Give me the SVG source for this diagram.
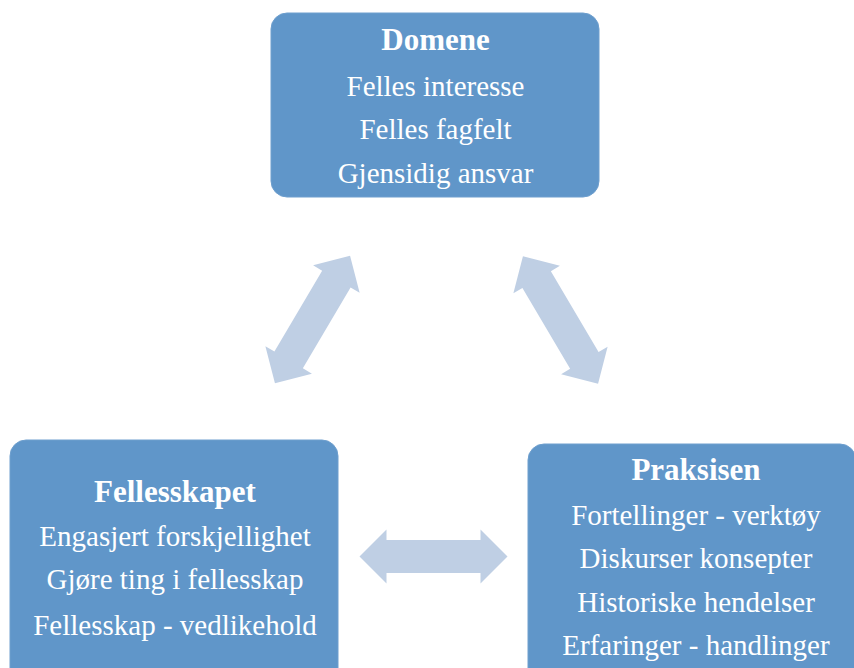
<svg xmlns="http://www.w3.org/2000/svg" width="854" height="668" viewBox="0 0 854 668">
  <style>
    .box { fill: #6096C9; stroke: #6E9FCE; stroke-width: 1; }
    .arrow { fill: #BFCFE4; }
    text { font-family: "Liberation Serif", "Times New Roman", serif; fill: #FFFFFF; text-anchor: middle; font-size: 29px; }
    .title { font-weight: bold; font-size: 31px; }
  </style>
  <defs>
    <!-- double-headed block arrow, centred on the origin -->
    <path id="dblArrow" d="M -74,0 L -47,-27 L -47,-16.5 L 47,-16.5 L 47,-27 L 74,0 L 47,27 L 47,16.5 L -47,16.5 L -47,27 Z"/>
  </defs>
  <rect width="854" height="668" fill="#FFFFFF"/>

  <g id="connectors">
    <use href="#dblArrow" class="arrow" transform="translate(312.5,319.5) rotate(-59.5)"/>
    <use href="#dblArrow" class="arrow" transform="translate(560.5,320) rotate(59.5)"/>
    <use href="#dblArrow" class="arrow" transform="translate(433.5,556.5)"/>
  </g>

  <g id="domene">
    <rect class="box" x="271" y="13" width="328" height="184" rx="16" ry="16"/>
    <text class="title" x="435.5" y="50">Domene</text>
    <text x="435.5" y="96">Felles interesse</text>
    <text x="435.5" y="139">Felles fagfelt</text>
    <text x="435.5" y="183">Gjensidig ansvar</text>
  </g>

  <g id="fellesskapet">
    <rect class="box" x="10" y="440" width="328" height="250" rx="16" ry="16"/>
    <text class="title" x="175" y="502">Fellesskapet</text>
    <text x="175" y="546">Engasjert forskjellighet</text>
    <text x="175" y="589">Gjøre ting i fellesskap</text>
    <text x="175" y="635">Fellesskap - vedlikehold</text>
  </g>

  <g id="praksisen">
    <rect class="box" x="528" y="444" width="328" height="250" rx="16" ry="16"/>
    <text class="title" x="696" y="480">Praksisen</text>
    <text x="696" y="525">Fortellinger - verktøy</text>
    <text x="696" y="568">Diskurser konsepter</text>
    <text x="696" y="612">Historiske hendelser</text>
    <text x="696" y="655">Erfaringer - handlinger</text>
  </g>
</svg>
